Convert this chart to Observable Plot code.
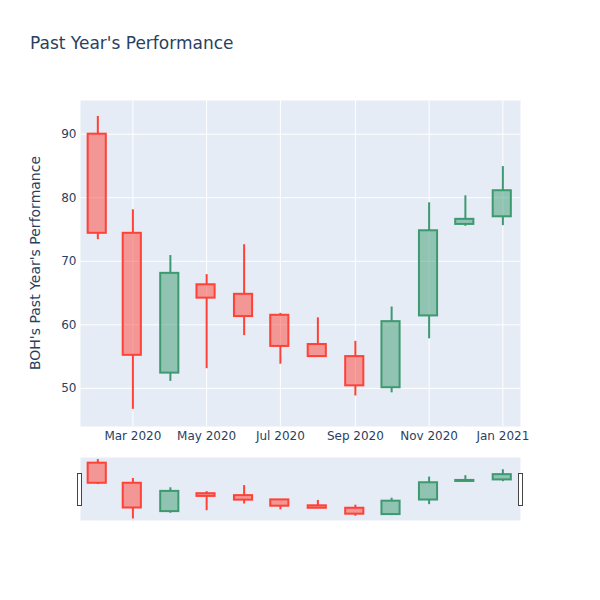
<!DOCTYPE html>
<html><head><meta charset="utf-8">
<script src="https://cdn.jsdelivr.net/npm/d3@7"></script>
<script src="https://cdn.jsdelivr.net/npm/@observablehq/plot@0.6"></script>
<style>
body{margin:0;background:#fff;font-family:"DejaVu Sans",sans-serif;}
#wrap{position:relative;width:600px;height:600px;overflow:hidden;}
#title{position:absolute;left:30px;top:33px;font-size:17px;color:#2a3f5f;white-space:nowrap;}
#ylab{position:absolute;left:35px;top:263px;font-size:14px;color:#2a3f5f;white-space:nowrap;transform:translate(-50%,-50%) rotate(-90deg);}
#main{position:absolute;left:0;top:0;}
#slider{position:absolute;left:0;top:450px;}
.handle{position:absolute;top:473px;width:3px;height:31px;border:1px solid #444;background:#fff;}
</style></head><body>
<div id="wrap">
  <div id="main"></div>
  <div id="slider"></div>
  <div id="title">Past Year's Performance</div>
  <div id="ylab">BOH's Past Year's Performance</div>
  <div class="handle" style="left:77px"></div>
  <div class="handle" style="left:518px"></div>
</div>
<script>
const dates = ["2020-02-01","2020-03-01","2020-04-01","2020-05-01","2020-06-01","2020-07-01","2020-08-01","2020-09-01","2020-10-01","2020-11-01","2020-12-01","2021-01-01"];
const openV  = [90.0, 74.4, 52.4, 66.3, 64.8, 61.5, 56.9, 55.0, 50.1, 61.4, 75.8, 77.0];
const closeV = [74.4, 55.2, 68.1, 64.2, 61.3, 56.6, 55.0, 50.4, 60.5, 74.8, 76.6, 81.1];
const highV  = [92.8, 78.1, 70.9, 67.9, 72.6, 61.8, 61.1, 57.4, 62.8, 79.2, 80.3, 84.9];
const lowV   = [73.4, 46.7, 51.1, 53.1, 58.3, 53.8, 55.0, 48.8, 49.3, 57.8, 75.5, 75.6];
const xTickDates = ["2020-03-01","2020-05-01","2020-07-01","2020-09-01","2020-11-01","2021-01-01"];
const yTickValues = [50, 60, 70, 80, 90];

const data = dates.map((d, i) => ({
  date: new Date(d + "T00:00Z"), open: openV[i], close: closeV[i], high: highV[i], low: lowV[i]
}));
const xTicks = xTickDates.map(d => new Date(d + "T00:00Z"));
const xDomain = [new Date("2020-01-17T16:00Z"), new Date("2021-01-15T14:00Z")];
const UP = "#3D9970", DOWN = "#FF4136", BG = "#E5ECF6", HALF = 7.6;

function candleMarks(sw) {
  const marks = [];
  for (const [test, col] of [[d => d.close >= d.open, UP], [d => d.close < d.open, DOWN]]) {
    marks.push(
      Plot.ruleX(data, {filter: test, x: "date", y1: "high", y2: d => Math.max(d.open, d.close), stroke: col, strokeWidth: sw}),
      Plot.ruleX(data, {filter: test, x: "date", y1: "low", y2: d => Math.min(d.open, d.close), stroke: col, strokeWidth: sw}),
      Plot.rect(data, {filter: test,
        x1: d => d3.utcDay.offset(d.date, -HALF), x2: d => d3.utcDay.offset(d.date, HALF),
        y1: "open", y2: "close", fill: col, fillOpacity: 0.5, stroke: col, strokeWidth: sw})
    );
  }
  return marks;
}

const main = Plot.plot({
  width: 600, height: 460,
  marginTop: 100, marginBottom: 34, marginLeft: 80, marginRight: 80,
  style: {fontFamily: "'DejaVu Sans', sans-serif", fontSize: "12px", color: "#2a3f5f", background: "transparent"},
  x: {type: "utc", domain: xDomain},
  y: {domain: [44.0, 95.3]},
  marks: [
    Plot.frame({fill: BG, stroke: null}),
    Plot.gridX(xTicks, {stroke: "white", strokeOpacity: 1, strokeWidth: 1}),
    Plot.gridY(yTickValues, {stroke: "white", strokeOpacity: 1, strokeWidth: 1}),
    Plot.axisX(xTicks, {tickSize: 0, tickPadding: 5, tickFormat: d3.utcFormat("%b %Y"), label: null}),
    Plot.axisY(yTickValues, {tickSize: 0, tickPadding: 4, label: null}),
    ...candleMarks(2)
  ]
});
document.getElementById("main").appendChild(main);

const slider = Plot.plot({
  width: 600, height: 76,
  marginTop: 7, marginBottom: 6, marginLeft: 80, marginRight: 80,
  style: {background: "transparent"},
  x: {type: "utc", domain: xDomain, axis: null},
  y: {domain: [45.5, 94.4], axis: null},
  marks: [
    Plot.frame({fill: BG, stroke: null}),
    ...candleMarks(2)
  ]
});
document.getElementById("slider").appendChild(slider);
</script>
</body></html>
